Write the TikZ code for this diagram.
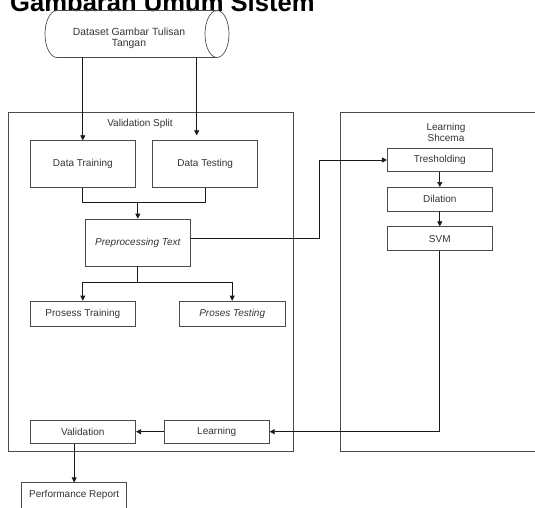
\documentclass[tikz,border=0pt]{standalone}
\usepackage{fontspec}
\setmainfont{Liberation Sans}
\usetikzlibrary{arrows.meta}
\begin{document}
\begin{tikzpicture}[x=1pt,y=-1pt,
  box/.style={draw=black!70,line width=0.7pt,inner sep=1pt,align=center,text=black!80,font=\fontsize{10}{12}\selectfont},
  frame/.style={draw=black!70,line width=0.7pt},
  conn/.style={draw=black!90,line width=0.7pt},
  arr/.style={conn,-{Triangle[length=5pt,width=5pt]}},
  lbl/.style={text=black!80,align=center,font=\fontsize{10}{12}\selectfont,inner sep=0pt}]
\clip (0,0) rectangle (535,508);
\useasboundingbox (0,0) rectangle (535,508);
% title
\node[anchor=base west,inner sep=0pt,font=\fontsize{25.6}{28}\selectfont\bfseries] (title) at (10,12) {Gambaran Umum Sistem};
% cylinder
\draw[frame] (217,10.5) -- (57,10.5) arc[start angle=270,end angle=90,x radius=12,y radius=23.5] -- (217,57.5);
\draw[frame] (217,34) ellipse [x radius=12,y radius=23.5];
\node[lbl,font=\fontsize{10.4}{11}\selectfont] (cyl) at (129,38.5) {Dataset Gambar Tulisan\\Tangan};
\coordinate (c1) at (82.8,57.5);
\coordinate (c2) at (196.7,57.5);
% frames
\draw[frame] (8,112.7) rectangle (293.3,451.2);
\node[lbl] (vslabel) at (140,124) {Validation Split};
\draw[frame] (340.5,112.7) rectangle (545,451.2);
\node[lbl,font=\fontsize{10}{11}\selectfont] (lslabel) at (446,132.8) {Learning\\Shcema};
% nodes
\node[box,minimum width=105pt,minimum height=46.6pt] (dtrain) at (82.8,164) {Data Training};
\node[box,minimum width=105pt,minimum height=46.6pt] (dtest) at (205.2,164) {Data Testing};
\node[box,minimum width=105.7pt,minimum height=47pt,font=\fontsize{10}{12}\selectfont\itshape] (prep) at (137.8,242.5) {Preprocessing Text};
\node[box,minimum width=105.7pt,minimum height=25pt] (ptrain) at (82.8,313.5) {Prosess Training};
\node[box,minimum width=105.7pt,minimum height=25pt,font=\fontsize{10}{12}\selectfont\itshape] (ptest) at (232.2,313.5) {Proses Testing};
\node[box,minimum width=105.7pt,minimum height=23.3pt] (val) at (82.8,431.7) {Validation};
\node[box,minimum width=105.3pt,minimum height=23.3pt] (learn) at (216.7,431.7) {Learning};
\node[box,minimum width=105pt,minimum height=25.3pt] (pr) at (74.2,495.4) {Performance Report};
\node[box,minimum width=105pt,minimum height=23.4pt] (thr) at (439.8,160) {Tresholding};
\node[box,minimum width=105pt,minimum height=23.7pt] (dil) at (439.8,199.2) {Dilation};
\node[box,minimum width=105pt,minimum height=24pt] (svm) at (439.8,238.7) {SVM};
% connectors
\draw[arr] (c1) -- (dtrain.north);
\draw[arr,shorten >=5pt] (c2) -- (c2 |- dtest.north);
\coordinate (m) at (137.8,202.7);
\draw[conn] (dtrain.south) -- (dtrain.south |- m) -- (dtest.south |- m) -- (dtest.south);
\draw[arr] (m) -- (prep.north);
\coordinate (s) at (137.8,282.7);
\draw[conn] (prep.south) -- (s);
\draw[arr] (s) -| (ptrain.north);
\draw[arr] (s) -| (ptest.north);
\coordinate (bend) at (319.3,238.3);
\draw[arr] (prep.east |- bend) -- (bend) |- (thr.west);
\draw[arr] (thr.south) -- (dil.north);
\draw[arr] (dil.south) -- (svm.north);
\draw[arr] (svm.south) |- (learn.east);
\draw[arr] (learn.west) -- (val.east);
\draw[arr] (pr.north |- val.south) -- (pr.north);
\end{tikzpicture}
\end{document}
